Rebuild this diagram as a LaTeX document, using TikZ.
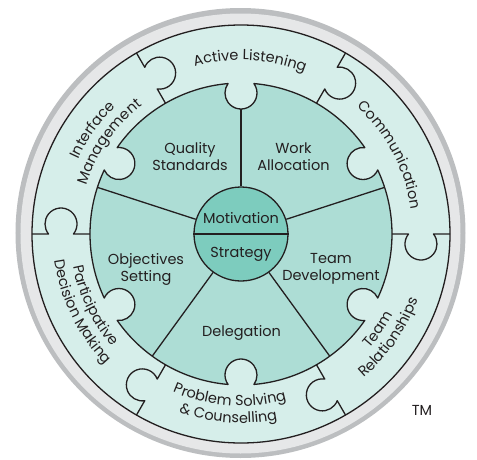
\documentclass[tikz,border=0pt]{standalone}
\usepackage{fontspec}
\setmainfont{Poppins}
\definecolor{ringlight}{HTML}{D6EEEA}
\definecolor{ringmid}{HTML}{ADDDD5}
\definecolor{hubfill}{HTML}{7DCCBE}
\definecolor{graylight}{HTML}{E6E7E8}
\definecolor{graydark}{HTML}{BCBEC0}
\definecolor{ink}{HTML}{231F20}
\newcommand{\labfont}{\fontsize{14.5}{17}\selectfont}
\newlength\arcacc
\newbox\arcbox
\def\arcsp{_}
% measure the characters of a label (outside the picture): #1 list macro, #2 total macro, #3 comma list of characters (_ = space)
\newcommand\arcprep[3]{%
  \gdef\arctmp{}%
  \global\arcacc=0pt
  \foreach \arcch in {#3}{%
    \ifx\arcch\arcsp\setbox\arcbox=\hbox{\normalfont\labfont\ }\else\setbox\arcbox=\hbox{\normalfont\labfont\arcch}\fi
    \ifx\arctmp\empty
      \xdef\arctmp{\expandafter\noexpand\arcch/\the\wd\arcbox}%
    \else
      \xdef\arctmp{\arctmp,\expandafter\noexpand\arcch/\the\wd\arcbox}%
    \fi
    \global\advance\arcacc by \wd\arcbox
  }%
  \global\let#1\arctmp
  \xdef#2{\the\arcacc}%
}
% set a measured label along an arc: #1 baseline radius, #2 centre angle, #3 direction (-1 clockwise/tops out, 1 anticlockwise/tops in), #4 list macro, #5 total macro
\newcommand\arctext[5]{%
  \global\arcacc=0pt
  \foreach \arcch/\arcw in #4 {%
    \pgfmathsetmacro\chang{#2 + #3*(-#5/2 + \the\arcacc + \arcw/2)/#1*57.29578}%
    \pgfmathsetmacro\chrot{\chang + #3*90}%
    \global\advance\arcacc by \arcw\relax
    \ifx\arcch\arcsp\else
      \node[font=\labfont, text=ink, inner sep=0pt, anchor=base, rotate=\chrot] at (\chang:#1) {\arcch};
    \fi
  }%
}
\begin{document}
\arcprep\lActive\tActive{A,c,t,i,v,e,_,L,i,s,t,e,n,i,n,g}%
\arcprep\lComm\tComm{C,o,m,m,u,n,i,c,a,t,i,o,n}%
\arcprep\lInter\tInter{I,n,t,e,r,f,a,c,e}%
\arcprep\lManag\tManag{M,a,n,a,g,e,m,e,n,t}%
\arcprep\lPart\tPart{P,a,r,t,i,c,i,p,a,t,i,v,e}%
\arcprep\lDecis\tDecis{D,e,c,i,s,i,o,n,_,M,a,k,i,n,g}%
\arcprep\lProb\tProb{P,r,o,b,l,e,m,_,S,o,l,v,i,n,g}%
\arcprep\lCoun\tCoun{\&,_,C,o,u,n,s,e,l,l,i,n,g}%
\arcprep\lTeam\tTeam{T,e,a,m}%
\arcprep\lRel\tRel{R,e,l,a,t,i,o,n,s,h,i,p,s}%
\begin{tikzpicture}[x=1pt,y=1pt,
  outline/.style={draw=ink, line width=1.3pt, line join=round},
  lab/.style={font=\labfont, text=ink, align=center, inner sep=0pt}]
\useasboundingbox (-241,-225) rectangle (236,234);
\fill[graydark] (-0.5,1) circle (225);
\fill[graylight] (-0.5,0.5) circle (220);
\draw[outline, fill=ringlight] (0,0) circle (209);
% middle ring with knobs
\draw[outline, fill=ringmid] (34.905:151)
  arc[start angle=34.905, end angle=85.095, radius=151]
  arc[start angle=396.19, end angle=143.81, radius=16]
  arc[start angle=94.905, end angle=145.095, radius=151]
  arc[start angle=456.19, end angle=203.81, radius=16]
  arc[start angle=154.905, end angle=205.095, radius=151]
  arc[start angle=516.19, end angle=263.81, radius=16]
  arc[start angle=214.905, end angle=265.095, radius=151]
  arc[start angle=576.19, end angle=323.81, radius=16]
  arc[start angle=274.905, end angle=325.095, radius=151]
  arc[start angle=636.19, end angle=383.81, radius=16]
  arc[start angle=334.905, end angle=385.095, radius=151]
  arc[start angle=696.19, end angle=443.81, radius=16]
  -- cycle;
% outer dividers with knobs
\foreach \t in {0,60,...,300}
  \draw[outline] (\t:151) -- (\t:167.5) arc[start angle=\t+141.34, end angle=\t+398.66, radius=16] -- (\t:209);
% hub
\node[circle, minimum size=94pt, inner sep=0pt, outline, fill=hubfill] (hub) at (0,0) {};
\draw[outline] (hub.90) -- (90:125);
\foreach \a in {18,-54,-126,162} \draw[outline] (hub.\a) -- (\a:151);
\draw[outline] (hub.west) -- (hub.east);
\node[lab] (motivation) at (0,15.5) {Motivation};
\node[lab] (strategy) at (0,-20) {Strategy};
% sector labels
\node[lab] (quality) at (-51,77) {Quality\\Standards};
\node[lab] (work) at (52.5,77) {Work\\Allocation};
\node[lab] (objectives) at (-95,-35) {Objectives\\Setting};
\node[lab] (teamdev) at (90,-35) {Team\\Development};
\node[lab] (delegation) at (0.5,-99) {Delegation};
% outer ring labels
\arctext{174}{87}{-1}{\lActive}{\tActive}
\arctext{172}{28}{-1}{\lComm}{\tComm}
\arctext{179}{145}{-1}{\lInter}{\tInter}
\arctext{162}{145}{-1}{\lManag}{\tManag}
\arctext{171}{206}{1}{\lPart}{\tPart}
\arctext{188}{206}{1}{\lDecis}{\tDecis}
\arctext{172}{266}{1}{\lProb}{\tProb}
\arctext{189}{266}{1}{\lCoun}{\tCoun}
\arctext{172}{325}{1}{\lTeam}{\tTeam}
\arctext{189}{325}{1}{\lRel}{\tRel}
\node[lab] (tm) at (181,-176) {TM};
\end{tikzpicture}
\end{document}
